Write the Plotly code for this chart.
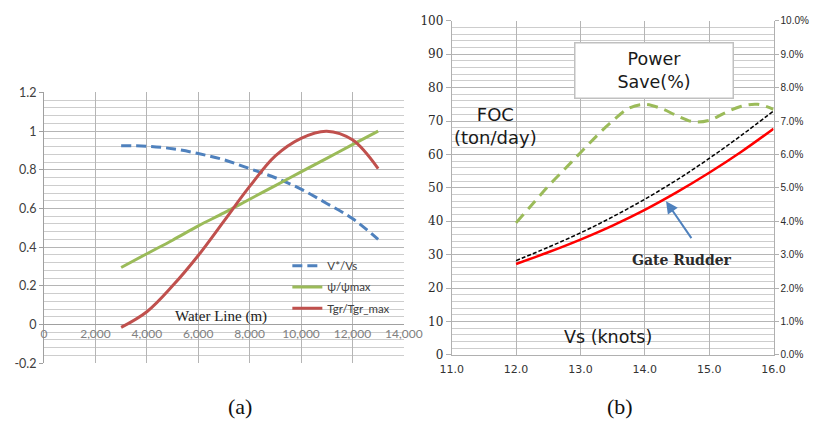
import plotly.graph_objects as go

W, H = 832, 431

# ---- (a) normalised quantities along the water line ----
water_line = [3000, 4000, 5000, 6000, 7000, 8000, 9000, 10000, 11000, 12000, 13000]
v_ratio = [0.925, 0.922, 0.909, 0.884, 0.852, 0.806, 0.759, 0.700, 0.626, 0.548, 0.440]
psi_ratio = [0.295, 0.366, 0.436, 0.510, 0.577, 0.648, 0.718, 0.789, 0.859, 0.930, 1.000]
tgr_ratio = [-0.015, 0.066, 0.200, 0.357, 0.535, 0.714, 0.872, 0.963, 1.000, 0.955, 0.806]

a_xticks = [0, 2000, 4000, 6000, 8000, 10000, 12000, 14000]
a_yticks = [-0.2, 0, 0.2, 0.4, 0.6, 0.8, 1, 1.2]
a_yticktext = ["-0.2", "0", "0.2", "0.4", "0.6", "0.8", "1", "1.2"]

# ---- (b) fuel oil consumption and power saving vs ship speed ----
speed = [12.0, 12.5, 13.0, 13.5, 14.0, 14.5, 15.0, 15.5, 16.0]
foc_conventional = [28.2, 32.2, 36.5, 41.3, 46.6, 52.4, 58.8, 65.7, 73.0]
foc_gate_rudder = [27.2, 30.7, 34.5, 38.7, 43.4, 48.7, 54.5, 60.8, 67.7]

save_speed = [12.0, 12.25, 12.5, 12.75, 13.0, 13.25, 13.5, 13.75, 14.0,
              14.25, 14.5, 14.75, 15.0, 15.25, 15.5, 15.75, 16.0]
power_save = [0.0395, 0.0450, 0.0505, 0.0555, 0.0605, 0.0655, 0.0700, 0.0738, 0.0750,
              0.0738, 0.0716, 0.0698, 0.0702, 0.0725, 0.0744, 0.0750, 0.0735]


def px_x(p):
    return p / W


def px_y(p):
    return 1 - p / H


fig = go.Figure()

# (a) traces
fig.add_trace(go.Scatter(x=water_line, y=v_ratio, name="V*/Vs", mode="lines",
                         line=dict(color="#4f81bd", width=3, dash="10px,5px", shape="spline"),
                         xaxis="x", yaxis="y", legend="legend"))
fig.add_trace(go.Scatter(x=water_line, y=psi_ratio, name="ψ/ψmax", mode="lines",
                         line=dict(color="#9bbb59", width=3, shape="spline"),
                         xaxis="x", yaxis="y", legend="legend2"))
fig.add_trace(go.Scatter(x=water_line, y=tgr_ratio, name="Tgr/Tgr_max", mode="lines",
                         line=dict(color="#c0504d", width=3, shape="spline"),
                         xaxis="x", yaxis="y", legend="legend3"))

# (b) traces
fig.add_trace(go.Scatter(x=save_speed, y=power_save, name="Power Save", mode="lines",
                         line=dict(color="#9bbb59", width=3, dash="11px,7px", shape="spline"),
                         xaxis="x2", yaxis="y3", showlegend=False))
fig.add_trace(go.Scatter(x=speed, y=foc_conventional, name="Conventional", mode="lines",
                         line=dict(color="#000000", width=1.5, dash="4px,2px", shape="spline"),
                         xaxis="x2", yaxis="y2", showlegend=False))
fig.add_trace(go.Scatter(x=speed, y=foc_gate_rudder, name="Gate Rudder", mode="lines",
                         line=dict(color="#ff0000", width=2.5, shape="spline"),
                         xaxis="x2", yaxis="y2", showlegend=False))

grid_major = "#b5b5b5"
grid_minor = "#cdcdcd"

legend_common = dict(bgcolor="rgba(0,0,0,0)", borderwidth=0,
                     font=dict(family="Lato", size=11.5, color="#404040"),
                     xanchor="left", yanchor="middle", itemwidth=30)

fig.update_layout(
    width=W, height=H,
    margin=dict(l=0, r=0, t=0, b=0),
    paper_bgcolor="white", plot_bgcolor="white",
    showlegend=True,
    legend=dict(x=px_x(286), y=px_y(267), **legend_common),
    legend2=dict(x=px_x(286), y=px_y(289), **legend_common),
    legend3=dict(x=px_x(286), y=px_y(311), **legend_common),
    xaxis=dict(
        domain=[px_x(33.3), px_x(407)], range=[0, 14000],
        anchor="free", position=px_y(328.3),
        tickvals=a_xticks, tickformat=",",
        tickfont=dict(family="Lato", size=12, color="#808080"),
        showgrid=True, gridcolor=grid_major, gridwidth=1,
        showline=False, zeroline=False, ticks="",
    ),
    yaxis=dict(
        domain=[px_y(368), px_y(87.5)], range=[-0.2, 1.2],
        anchor="x", tickvals=a_yticks, ticktext=a_yticktext,
        tickfont=dict(family="Lato", size=12.5, color="#404040"),
        showgrid=True, gridcolor=grid_major, gridwidth=1,
        minor=dict(dtick=0.04, showgrid=True, gridcolor=grid_minor, gridwidth=1),
        zeroline=True, zerolinecolor="#a0a0a0", zerolinewidth=1,
        showline=True, linecolor="#a0a0a0", linewidth=1,
        ticks="outside", ticklen=4, tickcolor="#a0a0a0",
    ),
    xaxis2=dict(
        domain=[px_x(456.7), px_x(791)], range=[11, 16],
        anchor="y2", dtick=1, tick0=11, tickformat=".1f",
        tickfont=dict(family="DejaVu Sans", size=11, color="#333333"),
        ticklabelstandoff=4,
        showgrid=True, gridcolor=grid_major, gridwidth=1,
        showline=True, linecolor="#b0b0b0", linewidth=1,
        zeroline=False, ticks="",
    ),
    yaxis2=dict(
        domain=[px_y(359.3), px_y(13.3)], range=[0, 100],
        anchor="x2", dtick=10, tick0=0,
        tickfont=dict(family="DejaVu Serif", size=12, color="#2a2a2a"),
        showgrid=True, gridcolor=grid_major, gridwidth=1,
        minor=dict(dtick=2, showgrid=True, gridcolor=grid_minor, gridwidth=1),
        showline=True, linecolor="#b0b0b0", linewidth=1,
        ticks="outside", ticklen=5, tickcolor="#b0b0b0",
        zeroline=False,
    ),
    yaxis3=dict(
        overlaying="y2", side="right", anchor="x2", range=[0, 0.1],
        dtick=0.01, tick0=0, tickformat=".1%",
        tickfont=dict(family="Liberation Sans", size=10, color="#2a2a2a"),
        showgrid=False, zeroline=False,
        showline=True, linecolor="#b0b0b0", linewidth=1,
        ticks="outside", ticklen=4, tickcolor="#b0b0b0",
    ),
)

annotations = [
    dict(text="Water Line (m)", x=px_x(217), y=px_y(320),
         font=dict(family="Liberation Serif", size=15, color="#222222")),
    dict(text="Power<br>Save(%)", x=px_x(667.2), y=px_y(64.7),
         width=153, height=50, bgcolor="white", bordercolor="#c0c0c0", borderwidth=1.5,
         borderpad=2, font=dict(family="DejaVu Sans", size=17.5, color="#1a1a1a")),
    dict(text="FOC<br>(ton/day)", x=px_x(502.5), y=px_y(122.5),
         font=dict(family="DejaVu Sans", size=18, color="#1a1a1a")),
    dict(text="Vs (knots)", x=px_x(619.3), y=px_y(340.7),
         font=dict(family="DejaVu Sans", size=17.5, color="#1a1a1a")),
    dict(text="<b>Gate Rudder</b>", x=px_x(696), y=px_y(261.5),
         font=dict(family="DejaVu Serif", size=14, color="#2a2a2a")),
    dict(text="(a)", x=px_x(236.7), y=px_y(413),
         font=dict(family="Liberation Serif", size=22, color="#111111")),
    dict(text="(b)", x=px_x(632), y=px_y(413),
         font=dict(family="Liberation Serif", size=22, color="#111111")),
]
for a in annotations:
    fig.add_annotation(xref="paper", yref="paper", showarrow=False,
                       xanchor="center", yanchor="middle", **a)

# arrow pointing at the gate rudder curve
fig.add_annotation(xref="x2", yref="y2", axref="x2", ayref="y2",
                   x=14.33, y=46.0, ax=14.74, ay=34.5, text="",
                   showarrow=True, arrowhead=2, arrowsize=1.2, arrowwidth=2,
                   arrowcolor="#4f81bd")

fig.write_html("out.html")
